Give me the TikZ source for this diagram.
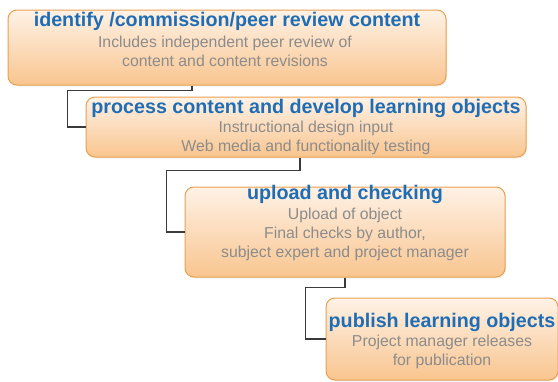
\documentclass[tikz,border=0pt]{standalone}
\usepackage{fontspec}
\setmainfont{Liberation Sans}
\usetikzlibrary{shadows}
\begin{document}
\definecolor{boxtop}{HTML}{F9C58F}
\definecolor{boxbot}{HTML}{FEF2E6}
\definecolor{boxedge}{HTML}{E9A04E}
\definecolor{titleblue}{HTML}{1F6DB5}
\definecolor{bodygray}{HTML}{8C8C8C}
\definecolor{linkgray}{HTML}{3A3A3A}
\begin{tikzpicture}[x=1pt,y=-1pt,
  % y runs downwards here, so the shading's "bottom" lands at the top edge
  stagebox/.style={draw=boxedge, line width=1pt, rounded corners=9pt,
    top color=boxbot, bottom color=boxtop, inner sep=0pt,
    drop shadow={opacity=0.12, shadow xshift=1pt, shadow yshift=-1.5pt}},
  stagetitle/.style={text=titleblue, font=\fontsize{19.7}{22}\selectfont\bfseries, inner sep=0pt},
  stagebody/.style={text=bodygray, font=\fontsize{15.8}{19}\selectfont, align=center, inner sep=0pt},
  link/.style={draw=linkgray, line width=1.6pt}]
\useasboundingbox (0,0) rectangle (558,381);
\clip (0,0) rectangle (558,381);

% stage boxes
\node[stagebox, minimum width=438pt, minimum height=75pt] (b1) at (227,47.5) {};
\node[stagebox, minimum width=440pt, minimum height=60pt] (b2) at (306,127) {};
\node[stagebox, minimum width=320pt, minimum height=90pt] (b3) at (345,232) {};
\node[stagebox, minimum width=232pt, minimum height=82pt] (b4) at (442,339) {};

% connectors between stages
\draw[link] (b1.south -| 192,0) -- ++(0,5) -| ([xshift=-18pt]b2.west) -- (b2.west);
\draw[link] (b2.south -| 300,0) -- ++(0,13) -| ([xshift=-18pt]b3.west) -- (b3.west);
\draw[link] (b3.south -| 345,0) -- ++(0,10) -| ([xshift=-20pt]b4.west) -- (b4.west);

% titles
\node[stagetitle] (t1) at (227,21) {identify /commission/peer review content};
\node[stagetitle] (t2) at (306,108) {process content and develop learning objects};
\node[stagetitle] (t3) at (345,194) {upload and checking};
\node[stagetitle] (t4) at (442,322) {publish learning objects};

% descriptions
\node[stagebody] (d1) at (225,51) {Includes independent peer review of\\content and content revisions};
\node[stagebody] (d2) at (306,137.5) {Instructional design input\\Web media and functionality testing};
\node[stagebody] (d3) at (345,234) {Upload of object\\Final checks by author,\\subject expert and project manager};
\node[stagebody] (d4) at (442,352) {Project manager releases\\for publication};
\end{tikzpicture}
\end{document}
